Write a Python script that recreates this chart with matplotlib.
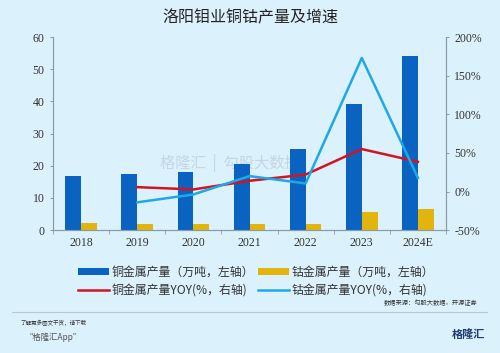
import numpy as np
import matplotlib.pyplot as plt

plt.rcParams['font.family'] = ['Noto Sans CJK SC', 'DejaVu Sans']

years = ['2018', '2019', '2020', '2021', '2022', '2023', '2024E']
cu_output = [16.8, 17.6, 18.1, 20.7, 25.2, 39.1, 54.0]
co_output = [2.2, 1.8, 1.8, 2.0, 2.0, 5.7, 6.6]
cu_yoy = [np.nan, 5.7, 2.7, 13.9, 22.0, 55.0, 38.5]
co_yoy = [np.nan, -14.0, -3.8, 20.0, 10.5, 173.0, 17.7]

bg = '#dbf1fc'
blue = '#0a63c0'
gold = '#e2b50c'
red = '#d3131f'
cyan = '#1ea8e8'
serif = ['Liberation Serif', 'DejaVu Serif']

fig = plt.figure(figsize=(5, 3.53), dpi=100, facecolor=bg)
ax = fig.add_axes([0.106, 0.348, 0.786, 0.547])
ax.set_facecolor(bg)
ax2 = ax.twinx()

# watermark
ax.text(0.45, 0.35, '格隆汇  |  勾股大数据', transform=ax.transAxes, ha='center', va='center',
        fontsize=11, color='#c3d6e4', zorder=1)

x = np.arange(len(years))
w = 0.28
b1 = ax.bar(x - w / 2, cu_output, w, color=blue, zorder=2)
b2 = ax.bar(x + w / 2, co_output, w, color=gold, zorder=2)
l1, = ax2.plot(x, cu_yoy, color=red, lw=1.8)
l2, = ax2.plot(x, co_yoy, color=cyan, lw=1.8)

ax.set_xlim(-0.5, len(years) - 0.5)
ax.set_ylim(0, 60)
ax.set_yticks(range(0, 61, 10))
ax2.set_ylim(-50, 200)
ax2.set_yticks(range(-50, 201, 50))
ax2.set_yticklabels([f'{v}%' for v in range(-50, 201, 50)])
ax.set_xticks(x)
ax.set_xticklabels(years)
ax.set_xticks(np.arange(-0.5, len(years)), minor=True)

for a in (ax, ax2):
    a.spines['top'].set_visible(False)
    for s in ('left', 'right', 'bottom'):
        a.spines[s].set_color('#8a9aa6')
        a.spines[s].set_linewidth(0.8)
    a.tick_params(colors='#8a9aa6', labelcolor='#333333', labelsize=8.5, length=2.5, width=0.7)
    for lab in a.get_yticklabels() + a.get_xticklabels():
        lab.set_family(serif)
ax.tick_params(axis='x', which='major', length=0, pad=5)
ax.tick_params(axis='x', which='minor', length=3, direction='out', color='#8a9aa6')

fig.text(0.5, 0.948, '洛阳钼业铜钴产量及增速', ha='center', va='center', fontsize=11.5, color='#222222')

handles = [b1, l1, b2, l2]
labels = ['铜金属产量（万吨，左轴）', '铜金属产量YOY(%，右轴)',
          '钴金属产量（万吨，左轴）', '钴金属产量YOY(%，右轴)']
fig.legend(handles, labels, ncol=2, loc='center', bbox_to_anchor=(0.512, 0.203),
           frameon=False, fontsize=8.6, handlelength=2.6, handleheight=0.5, handletextpad=0.2,
           columnspacing=0.4, labelspacing=0.45, labelcolor='#333333')

fig.text(0.955, 0.142, '数据来源：勾股大数据，开源证券', ha='right', va='center', fontsize=4.5, color='#333333')
fig.add_artist(plt.Line2D([0.024, 0.974], [0.115, 0.115], color='#b9c8d2', lw=0.8))
fig.text(0.04, 0.085, '了解更多图文干货，请下载', ha='left', va='center', fontsize=4, color='#333333', style='italic')
fig.text(0.05, 0.045, '“格隆汇App”', ha='left', va='center', fontsize=6, color='#555555', style='italic')
fig.text(0.97, 0.052, '格隆汇', ha='right', va='center', fontsize=8, color='#1f3b73', weight='bold')

fig.savefig('out.png', dpi=100, facecolor=bg)
